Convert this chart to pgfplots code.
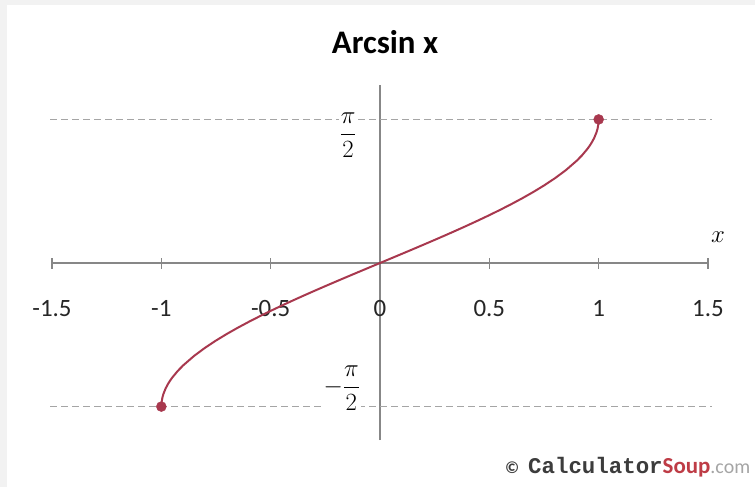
\documentclass[border=0pt]{standalone}
\usepackage{pgfplots}
\pgfplotsset{compat=1.18}
\usepackage{fontspec}
\setmainfont{Carlito}
\newfontfamily\monofont{Liberation Mono}

\definecolor{curvered}{RGB}{168,56,78}
\definecolor{axisgray}{RGB}{135,135,135}
\definecolor{dashgray}{RGB}{165,165,165}
\definecolor{framegray}{RGB}{242,242,242}
\definecolor{markgray}{RGB}{60,60,60}
\definecolor{soupred}{RGB}{190,60,70}

% y = arcsin(x), sampled densely near the end points
\pgfplotstableread{
x y
-1.0000 -1.5708
-0.9999 -1.5566
-0.9990 -1.5261
-0.9950 -1.4706
-0.9900 -1.4293
-0.9800 -1.3705
-0.9700 -1.3252
-0.9600 -1.2870
-0.9500 -1.2532
-0.9250 -1.1810
-0.9000 -1.1198
-0.8500 -1.0160
-0.8000 -0.9273
-0.7500 -0.8481
-0.7000 -0.7754
-0.6500 -0.7076
-0.6000 -0.6435
-0.5500 -0.5824
-0.5000 -0.5236
-0.4500 -0.4668
-0.4000 -0.4115
-0.3500 -0.3576
-0.3000 -0.3047
-0.2500 -0.2527
-0.2000 -0.2014
-0.1500 -0.1506
-0.1000 -0.1002
-0.0500 -0.0500
 0.0000  0.0000
 0.0500  0.0500
 0.1000  0.1002
 0.1500  0.1506
 0.2000  0.2014
 0.2500  0.2527
 0.3000  0.3047
 0.3500  0.3576
 0.4000  0.4115
 0.4500  0.4668
 0.5000  0.5236
 0.5500  0.5824
 0.6000  0.6435
 0.6500  0.7076
 0.7000  0.7754
 0.7500  0.8481
 0.8000  0.9273
 0.8500  1.0160
 0.9000  1.1198
 0.9250  1.1810
 0.9500  1.2532
 0.9600  1.2870
 0.9700  1.3252
 0.9800  1.3705
 0.9900  1.4293
 0.9950  1.4706
 0.9990  1.5261
 0.9999  1.5566
 1.0000  1.5708
}\arcsintable

\begin{document}
\begin{tikzpicture}
\begin{axis}[
  set layers,
  scale only axis,
  width=656bp, height=355bp,
  xmin=-1.5, xmax=1.5,
  ymin=-1.937, ymax=1.947,
  axis lines=middle,
  axis line style={-, draw=axisgray, line width=1.6pt},
  xtick={-1.5,-1,-0.5,0,0.5,1,1.5},
  ytick=\empty,
  hide obscured x ticks=false,
  tick align=center,
  major tick length=11bp,
  tick style={draw=axisgray, line width=1.3pt},
  xticklabel style={anchor=base, yshift=-47.5bp, text=black!85,
    font=\fontsize{25}{25}\selectfont},
  /pgf/number format/assume math mode=true,
  clip=false,
]
  % frame and page extent, behind everything
  \begin{pgfonlayer}{axis background}
  \fill[framegray] (axis cs:-1.7378,-2.4508) rectangle (axis cs:1.7149,2.8775);
  \fill[white] (axis cs:-1.7058,-2.4508) rectangle (axis cs:1.7149,2.8228);
  \end{pgfonlayer}

  % asymptote levels at +-pi/2
  \addplot[dashgray, line width=1.8pt, dash pattern=on 7bp off 4bp]
    coordinates {(-1.509,1.5708) (1.518,1.5708)};
  \addplot[dashgray, line width=1.8pt, dash pattern=on 7bp off 4bp]
    coordinates {(-1.509,-1.5708) (1.518,-1.5708)};

  % level labels
  \node[fill=white, inner sep=1pt, font=\fontsize{26}{28}\selectfont]
    at (axis cs:-0.146,1.40) {$\displaystyle\frac{\pi}{2}$};
  \node[fill=white, inner sep=1pt, font=\fontsize{26}{28}\selectfont]
    at (axis cs:-0.175,-1.37) {$-\displaystyle\frac{\pi}{2}$};
  \node[font=\fontsize{26}{26}\selectfont] at (axis cs:1.546,0.284) {$x$};

  % the curve
  \addplot[curvered, line width=2pt] table[x=x, y=y] {\arcsintable};
  \addplot[only marks, mark=*, mark size=5bp, curvered]
    coordinates {(-1,-1.5708) (1,1.5708)};

  % title
  \node[font=\fontsize{33}{33}\selectfont\bfseries]
    at (axis cs:0.023,2.418) {Arcsin x};

  % credit line
  \node[anchor=base west, inner sep=0pt]
    at (axis cs:0.571,-2.30)
    {{\fontsize{17}{17}\selectfont\bfseries\color{markgray}\textcopyright}\hspace{9bp}%
     {\monofont\bfseries\fontsize{22.5}{22.5}\selectfont\color{markgray}Calculator}%
     {\bfseries\fontsize{23}{23}\selectfont\color{soupred}Soup}%
     {\fontsize{20}{20}\selectfont\color{dashgray}.com}};
\end{axis}
\end{tikzpicture}
\end{document}
